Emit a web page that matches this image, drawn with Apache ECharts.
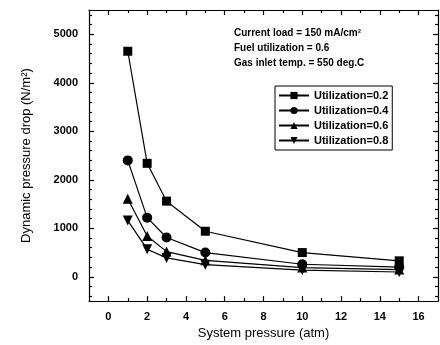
<!DOCTYPE html>
<html>
<head>
<meta charset="utf-8">
<script src="https://cdn.jsdelivr.net/npm/echarts@6/dist/echarts.min.js"></script>
<style>
  html, body { margin: 0; padding: 0; background: #fff; }
  #main { width: 440px; height: 345px; }
</style>
</head>
<body>
<div id="main"></div>
<script>
// system pressure (atm)
const pressure = [1, 2, 3, 5, 10, 15];
// dynamic pressure drop (N/m2) per utilization
const util02 = [4650, 2340, 1560, 940, 500, 330];
const util04 = [2400, 1220, 810, 500, 260, 200];
const util06 = [1610, 840, 520, 340, 190, 150];
const util08 = [1160, 570, 390, 250, 140, 100];

const seriesNames = ['Utilization=0.2', 'Utilization=0.4', 'Utilization=0.6', 'Utilization=0.8'];
const notes = ['Current load = 150 mA/cm\u00b2', 'Fuel utilization = 0.6', 'Gas inlet temp. = 550 deg.C'];

const xTicks = [0, 2, 4, 6, 8, 10, 12, 14, 16];
const xMinor = [1, 3, 5, 7, 9, 11, 13, 15];
const yTicks = [0, 1000, 2000, 3000, 4000, 5000];
const yMinor = [];
for (let v = -400; v < 5500; v += 200) {
    if (v % 1000 !== 0) yMinor.push(v);
}

const FONT = '"Liberation Sans", Arial, sans-serif';
const X_MIN = -1, X_MAX = 17, Y_MIN = -500, Y_MAX = 5500;

// 一条坐标轴（刻度用 customValues 画）
function xAxisOf(pos, ticks, len, withLabel, withLine) {
    return {
        type: 'value', position: pos, min: X_MIN, max: X_MAX,
        axisLine: {show: withLine, onZero: false, lineStyle: {color: '#000', width: 1.2}},
        axisTick: {show: true, inside: true, length: len, customValues: ticks, lineStyle: {color: '#000', width: 1.2}},
        axisLabel: {show: withLabel, customValues: ticks, color: '#000', fontFamily: FONT, fontWeight: 'bold', fontSize: 11, margin: 10,
            formatter: v => String(v)},
        splitLine: {show: false}
    };
}

function yAxisOf(pos, ticks, len, withLabel, withLine) {
    return {
        type: 'value', position: pos, min: Y_MIN, max: Y_MAX,
        axisLine: {show: withLine, onZero: false, lineStyle: {color: '#000', width: 1.2}},
        axisTick: {show: true, inside: true, length: len, customValues: ticks, lineStyle: {color: '#000', width: 1.2}},
        axisLabel: {show: withLabel, customValues: ticks, color: '#000', fontFamily: FONT, fontWeight: 'bold', fontSize: 11, margin: 11,
            formatter: v => String(v)},
        splitLine: {show: false}
    };
}

const xMain = xAxisOf('bottom', xTicks, 5, true, true);
xMain.name = 'System pressure (atm)';
xMain.nameLocation = 'middle';
xMain.nameGap = 22;
xMain.nameTextStyle = {color: '#000', fontFamily: FONT, fontSize: 13};

const yMain = yAxisOf('left', yTicks, 5, true, true);
yMain.name = 'Dynamic pressure drop (N/m\u00b2)';
yMain.nameLocation = 'middle';
yMain.nameGap = 56;
yMain.nameTextStyle = {color: '#000', fontFamily: FONT, fontSize: 13};

const symbols = ['rect', 'circle', 'triangle', 'path://M0,0 L10,0 L5,9 Z'];
const sizes = [9, 10, 10, 10];
const values = [util02, util04, util06, util08];

const chart = echarts.init(document.getElementById('main'), null, {renderer: 'canvas'});
chart.setOption({
    animation: false,
    backgroundColor: '#fff',
    grid: {left: 89, right: 2, top: 10, bottom: 40},
    legend: {
        orient: 'vertical', left: 275, top: 86,
        data: seriesNames,
        itemWidth: 30, itemHeight: 9, itemGap: 4,
        padding: [4, 4, 4, 3],
        borderColor: '#000', borderWidth: 1,
        textStyle: {color: '#000', fontFamily: FONT, fontWeight: 'bold', fontSize: 11}
    },
    graphic: notes.map((t, i) => ({
        type: 'text', left: 234, top: 28 + i * 15,
        style: {text: t, fill: '#000', font: 'bold 10px ' + FONT}
    })),
    xAxis: [
        xMain,
        xAxisOf('top', xTicks, 5, false, true),
        xAxisOf('bottom', xMinor, 3, false, false),
        xAxisOf('top', xMinor, 3, false, false)
    ],
    yAxis: [
        yMain,
        yAxisOf('right', yTicks, 5, false, true),
        yAxisOf('left', yMinor, 3, false, false),
        yAxisOf('right', yMinor, 3, false, false)
    ],
    series: values.map((arr, k) => ({
        name: seriesNames[k],
        type: 'line',
        xAxisIndex: 0, yAxisIndex: 0,
        data: pressure.map((p, i) => [p, arr[i]]),
        symbol: symbols[k],
        symbolSize: sizes[k],
        showAllSymbol: true,
        itemStyle: {color: '#000'},
        lineStyle: {color: '#000', width: 1.2}
    }))
});
</script>
</body>
</html>
